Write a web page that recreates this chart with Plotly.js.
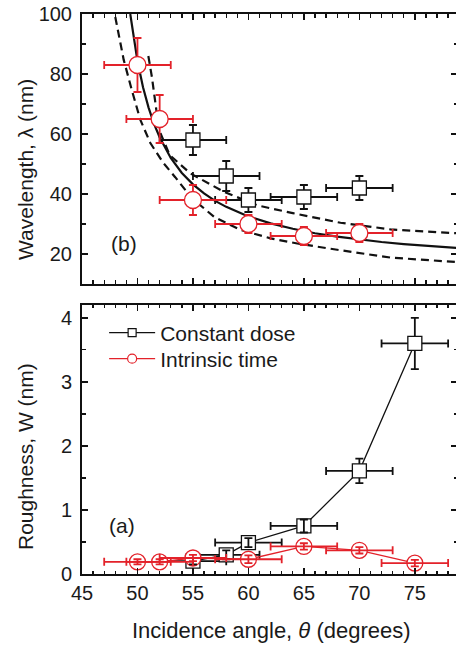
<!DOCTYPE html>
<html><head><meta charset="utf-8">
<script src="https://cdn.plot.ly/plotly-3.0.1.min.js"></script>
<style>html,body{margin:0;padding:0;overflow:hidden;background:#fff}#plot{width:458px;height:646px}</style>
</head><body><div id="plot"></div>
<script>
// ---- (b) wavelength panel ----
const lamTheta_CD = [55, 58, 60, 65, 70];
const lam_CD      = [58, 46, 38, 39, 42];
const lamErr_CD   = [5, 5, 4, 4, 4];
const lamThErr_CD = [3, 3, 3, 3, 3];

const lamTheta_IT = [50, 52, 55, 60, 65, 70];
const lam_IT      = [83, 65, 38, 30, 26, 27];
const lamErr_IT   = [9, 8, 5, 3, 3, 3];
const lamThErr_IT = [3, 3, 3, 3, 3, 3];

// fit curves
const solidTheta = [49.35, 49.6, 50, 50.5, 51, 51.5, 52, 53, 54, 55, 56, 57, 58, 60, 62, 64, 66, 68, 70, 72, 74, 76, 78.8];
const solidLam   = [100, 93.3, 84.3, 75.6, 68.8, 63.3, 58.9, 52.0, 47.0, 43.2, 40.2, 37.7, 35.7, 32.5, 30.2, 28.4, 26.9, 25.8, 24.8, 24.0, 23.3, 22.7, 22.0];
const lowTheta = [48.0, 48.4, 48.76, 49.5, 50.26, 51.16, 52.3, 53.4, 54.9, 56.9, 59.3, 62.0, 64.4, 68.0, 72.8, 78.8];
const lowLam   = [99, 91, 84.7, 74.5, 64.7, 57.0, 50.5, 45.6, 38.6, 32.4, 28.0, 25.2, 23.5, 21.4, 18.8, 17.3];
const upTheta = [50.98, 51.3, 51.7, 52.1, 52.9, 54.75, 57.75, 60.8, 64.0, 68.3, 72.8, 78.8];
const upLam   = [86, 79, 68, 60, 53, 46.9, 40.8, 36.2, 33.6, 30.4, 28.2, 26.9];

// ---- (a) roughness panel ----
const wTheta_CD = [55, 58, 60, 65, 70, 75];
const w_CD      = [0.2, 0.3, 0.49, 0.75, 1.61, 3.6];
const wErr_CD   = [0.05, 0.07, 0.07, 0.1, 0.19, 0.4];
const wThErr_CD = [3, 3, 3, 3, 3, 3];

const wTheta_IT = [50, 52, 55, 60, 65, 70, 75];
const w_IT      = [0.19, 0.19, 0.25, 0.23, 0.43, 0.37, 0.17];
const wErr_IT   = [0.04, 0.04, 0.05, 0.06, 0.05, 0.05, 0.05];
const wThErr_IT = [3, 3, 3, 3, 3, 3, 3];

const xTickVals = [45, 50, 55, 60, 65, 70, 75];
const labels = {cd: 'Constant dose', it: 'Intrinsic time'};

const RED = '#e3222a', BLK = '#111111';
const FONT = 'Liberation Sans, Arial, sans-serif';
const MSQ = 14, MCI = 16;

function errs(arr, color){ return {type:'data', array:arr, visible:true, color:color, thickness:1.8, width:4}; }

const traces = [];
// curves
traces.push({x: lowTheta, y: lowLam, xaxis:'x2', yaxis:'y2', mode:'lines', line:{color:BLK, width:2.2, dash:'8px,5px'}, showlegend:false, hoverinfo:'skip'});
traces.push({x: upTheta, y: upLam, xaxis:'x2', yaxis:'y2', mode:'lines', line:{color:BLK, width:2.2, dash:'8px,5px'}, showlegend:false, hoverinfo:'skip'});
traces.push({x: solidTheta, y: solidLam, xaxis:'x2', yaxis:'y2', mode:'lines', line:{color:BLK, width:2.2}, showlegend:false, hoverinfo:'skip'});
// top data
traces.push({x: lamTheta_CD, y: lam_CD, xaxis:'x2', yaxis:'y2', mode:'markers',
  marker:{symbol:'square', size:MSQ, color:'#fff', line:{color:BLK, width:1.3}},
  error_x: errs(lamThErr_CD, BLK), error_y: errs(lamErr_CD, BLK), showlegend:false});
traces.push({x: lamTheta_IT, y: lam_IT, xaxis:'x2', yaxis:'y2', mode:'markers',
  marker:{symbol:'circle', size:MCI+1, color:'#fff', line:{color:RED, width:1.3}},
  error_x: errs(lamThErr_IT, RED), error_y: errs(lamErr_IT, RED), showlegend:false});
// bottom data
traces.push({x: wTheta_CD, y: w_CD, xaxis:'x', yaxis:'y', mode:'lines+markers',
  line:{color:BLK, width:1.3},
  marker:{symbol:'square', size:MSQ, color:'#fff', line:{color:BLK, width:1.3}},
  error_x: errs(wThErr_CD, BLK), error_y: errs(wErr_CD, BLK), showlegend:false});
traces.push({x: wTheta_IT, y: w_IT, xaxis:'x', yaxis:'y', mode:'lines+markers',
  line:{color:RED, width:1.3},
  marker:{symbol:'circle', size:MCI, color:'#fff', line:{color:RED, width:1.3}},
  showlegend:false});
// error bars drawn over the small markers
const pxPerW = 64.2;
const smallIdx = wErr_CD.map((e,i)=> e*pxPerW < MSQ/2 ? i : -1).filter(i=>i>=0);
traces.push({x: smallIdx.map(i=>wTheta_CD[i]), y: smallIdx.map(i=>w_CD[i]), xaxis:'x', yaxis:'y', mode:'markers',
  marker:{size:1, opacity:0}, error_y: errs(smallIdx.map(i=>wErr_CD[i]), BLK), showlegend:false, hoverinfo:'skip'});
traces.push({x: wTheta_IT, y: w_IT, xaxis:'x', yaxis:'y', mode:'markers',
  marker:{size:1, opacity:0}, error_x: errs(wThErr_IT, RED), error_y: errs(wErr_IT, RED), showlegend:false, hoverinfo:'skip'});
// legend entries
traces.push({x:[null], y:[null], xaxis:'x', yaxis:'y', mode:'lines+markers', name: labels.cd, legend:'legend',
  line:{color:BLK, width:1.4}, marker:{symbol:'square', size:8, color:'#fff', line:{color:BLK, width:1.2}}});
traces.push({x:[null], y:[null], xaxis:'x', yaxis:'y', mode:'lines+markers', name: labels.it, legend:'legend2',
  line:{color:RED, width:1.4}, marker:{symbol:'circle', size:9, color:'#fff', line:{color:RED, width:1.2}}});

const axBase = {showline:true, linecolor:BLK, linewidth:2, mirror:'allticks', ticks:'inside', ticklen:6, tickwidth:1.6, tickcolor:BLK,
  showgrid:false, zeroline:false, tickfont:{family:FONT, size:20, color:'#1a1a1a'}, fixedrange:true};
const legBase = {xanchor:'left', yanchor:'middle', bgcolor:'rgba(0,0,0,0)', borderwidth:0,
  font:{family:FONT, size:21, color:'#1a1a1a'}, itemwidth:46};

const layout = {
  width:458, height:646, margin:{l:82, r:1, t:14, b:72},
  paper_bgcolor:'#fff', plot_bgcolor:'#fff', showlegend:true,
  font:{family:FONT, color:'#1a1a1a'},
  xaxis: Object.assign({}, axBase, {anchor:'y', range:[45, 78.8], tickvals:xTickVals, ticktext:xTickVals.map(String),
    minor:{dtick:1, ticklen:3.5, tickwidth:1.3, ticks:'inside', tickcolor:BLK}}),
  xaxis2: Object.assign({}, axBase, {anchor:'y2', range:[45, 78.8], tickvals:xTickVals, showticklabels:false,
    minor:{dtick:1, ticklen:3.5, tickwidth:1.3, ticks:'inside', tickcolor:BLK}}),
  yaxis: Object.assign({}, axBase, {anchor:'x', domain:[0, 0.4804], range:[0, 4.2], tickvals:[0,1,2,3,4], ticklabelstandoff:4,
    minor:{dtick:0.5, ticklen:3.5, tickwidth:1.3, ticks:'inside', tickcolor:BLK}}),
  yaxis2: Object.assign({}, axBase, {anchor:'x2', domain:[0.5179, 1], range:[10, 100], tickvals:[20,40,60,80,100], ticklabelstandoff:4,
    minor:{dtick:10, ticklen:3.5, tickwidth:1.3, ticks:'inside', tickcolor:BLK}}),
  legend: Object.assign({}, legBase, {x:0.059, y:0.4304}),
  legend2: Object.assign({}, legBase, {x:0.059, y:0.3839}),
  annotations:[
    {text:'Wavelength, λ (nm)', xref:'paper', yref:'paper', x:-0.152, y:0.7214, textangle:-90, showarrow:false,
      xanchor:'center', yanchor:'middle', font:{family:FONT, size:21, color:'#1a1a1a'}},
    {text:'Roughness, W (nm)', xref:'paper', yref:'paper', x:-0.152, y:0.2089, textangle:-90, showarrow:false,
      xanchor:'center', yanchor:'middle', font:{family:FONT, size:21, color:'#1a1a1a'}},
    {text:'Incidence angle, <i>θ</i> (degrees)', xref:'paper', yref:'paper', x:0.504, y:-0.1, showarrow:false,
      xanchor:'center', yanchor:'middle', font:{family:FONT, size:22, color:'#1a1a1a'}},
    {text:'(b)', xref:'paper', yref:'paper', x:0.112, y:0.591, showarrow:false, xanchor:'center', yanchor:'middle',
      font:{family:FONT, size:21, color:'#1a1a1a'}},
    {text:'(a)', xref:'paper', yref:'paper', x:0.107, y:0.0875, showarrow:false, xanchor:'center', yanchor:'middle',
      font:{family:FONT, size:21, color:'#1a1a1a'}}
  ]
};
Plotly.newPlot('plot', traces, layout, {displayModeBar:false, staticPlot:true});
</script></body></html>
